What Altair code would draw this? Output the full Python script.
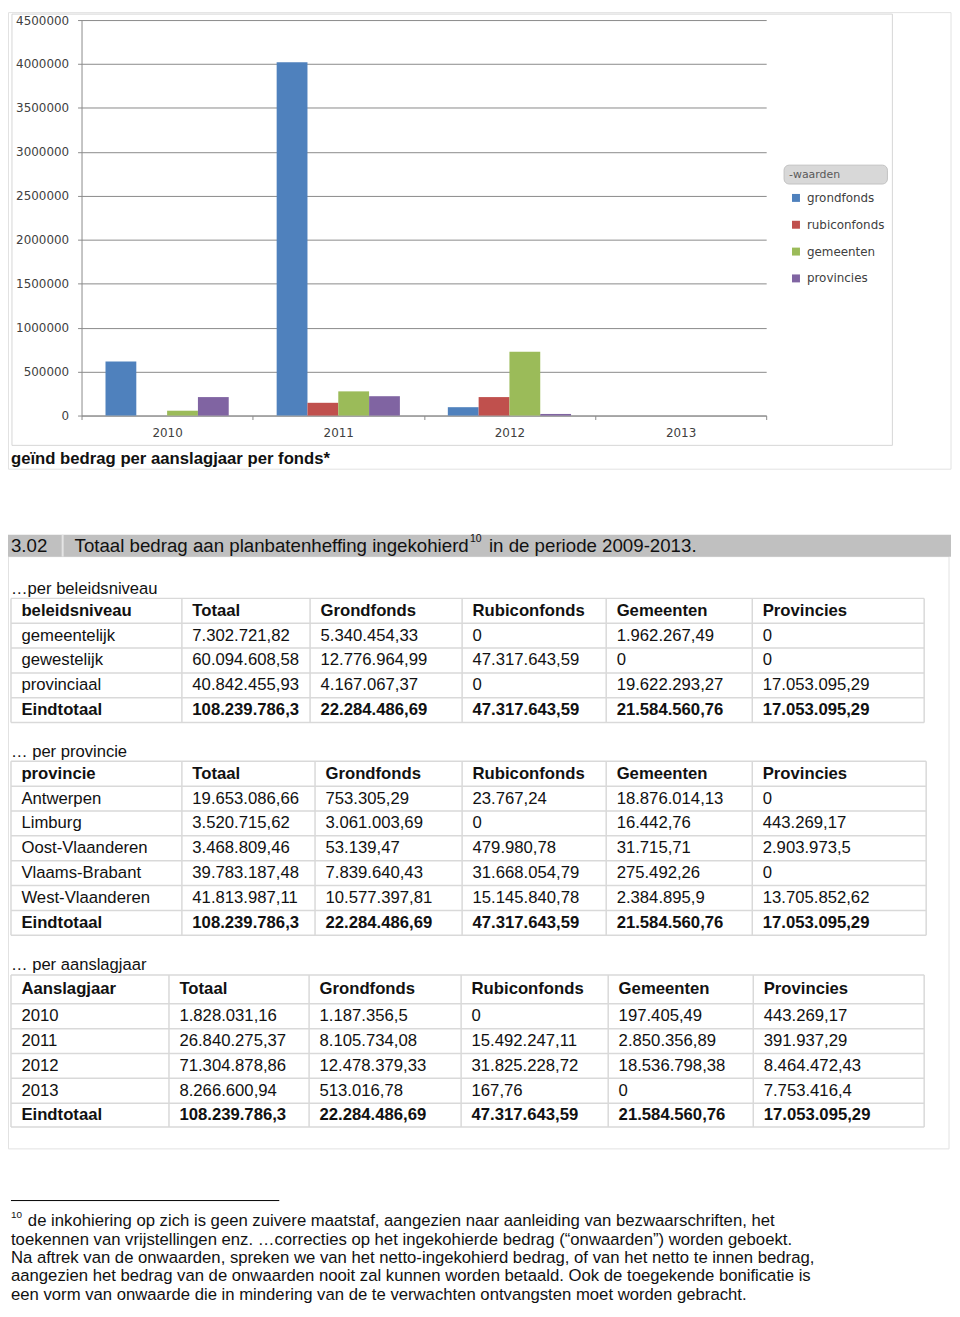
import altair as alt
import pandas as pd

# ---------------- chart data ----------------
years = ["2010", "2011", "2012", "2013"]
funds = ["grondfonds", "rubiconfonds", "gemeenten", "provincies"]
grondfonds = [615000, 4020000, 95000, 0]
rubiconfonds = [0, 145000, 210000, 0]
gemeenten = [55000, 275000, 725000, 0]
provincies = [210000, 220000, 18000, 0]
y_tick_values = [0, 500000, 1000000, 1500000, 2000000, 2500000,
                 3000000, 3500000, 4000000, 4500000]
fund_colors = ["#4F81BD", "#C0504D", "#9BBB59", "#8064A2"]

# ---------------- table data ----------------
value_headers = ["Totaal", "Grondfonds", "Rubiconfonds", "Gemeenten", "Provincies"]

t1_title = "beleidsniveau"
t1_rows = ["gemeentelijk", "gewestelijk", "provinciaal", "Eindtotaal"]
t1_totaal = ["7.302.721,82", "60.094.608,58", "40.842.455,93", "108.239.786,3"]
t1_grondfonds = ["5.340.454,33", "12.776.964,99", "4.167.067,37", "22.284.486,69"]
t1_rubiconfonds = ["0", "47.317.643,59", "0", "47.317.643,59"]
t1_gemeenten = ["1.962.267,49", "0", "19.622.293,27", "21.584.560,76"]
t1_provincies = ["0", "0", "17.053.095,29", "17.053.095,29"]

t2_title = "provincie"
t2_rows = ["Antwerpen", "Limburg", "Oost-Vlaanderen", "Vlaams-Brabant",
           "West-Vlaanderen", "Eindtotaal"]
t2_totaal = ["19.653.086,66", "3.520.715,62", "3.468.809,46", "39.783.187,48",
             "41.813.987,11", "108.239.786,3"]
t2_grondfonds = ["753.305,29", "3.061.003,69", "53.139,47", "7.839.640,43",
                 "10.577.397,81", "22.284.486,69"]
t2_rubiconfonds = ["23.767,24", "0", "479.980,78", "31.668.054,79",
                   "15.145.840,78", "47.317.643,59"]
t2_gemeenten = ["18.876.014,13", "16.442,76", "31.715,71", "275.492,26",
                "2.384.895,9", "21.584.560,76"]
t2_provincies = ["0", "443.269,17", "2.903.973,5", "0",
                 "13.705.852,62", "17.053.095,29"]

t3_title = "Aanslagjaar"
t3_rows = ["2010", "2011", "2012", "2013", "Eindtotaal"]
t3_totaal = ["1.828.031,16", "26.840.275,37", "71.304.878,86", "8.266.600,94", "108.239.786,3"]
t3_grondfonds = ["1.187.356,5", "8.105.734,08", "12.478.379,33", "513.016,78", "22.284.486,69"]
t3_rubiconfonds = ["0", "15.492.247,11", "31.825.228,72", "167,76", "47.317.643,59"]
t3_gemeenten = ["197.405,49", "2.850.356,89", "18.536.798,38", "0", "21.584.560,76"]
t3_provincies = ["443.269,17", "391.937,29", "8.464.472,43", "7.753.416,4", "17.053.095,29"]

chart_caption = "geïnd bedrag per aanslagjaar per fonds*"
section_no = "3.02"
section_title = "Totaal bedrag aan planbatenheffing ingekohierd"
section_sup = "10"
section_tail = "in de periode 2009-2013."
sub_titles = ["…per beleidsniveau", "… per provincie", "… per aanslagjaar"]
footnote_lines = [
    "de inkohiering op zich is geen zuivere maatstaf, aangezien naar aanleiding van bezwaarschriften, het",
    "toekennen van vrijstellingen enz. …correcties op het ingekohierde bedrag (“onwaarden”) worden geboekt.",
    "Na aftrek van de onwaarden, spreken we van het netto-ingekohierd bedrag, of van het netto te innen bedrag,",
    "aangezien het bedrag van de onwaarden nooit zal kunnen worden betaald. Ook de toegekende bonificatie is",
    "een vorm van onwaarde die in mindering van de te verwachten ontvangsten moet worden gebracht.",
]

# ---------------- layout (page pixels -> plot-relative pixels) ----------------
OX, OY = 82, 16          # page position of the bar plot's origin
PLOT_W, PLOT_H = 689, 398
PAGE_RIGHT, PAGE_BOTTOM = 958, 1308
GRID = "#8a8a8a"
AXT = "#404040"
TB = "#d9d9d9"
INK = "#111111"
SANS = "Liberation Sans"


def X(v):
    return v - OX


def Y(v):
    return v - OY


one = pd.DataFrame({"k": [0]})


def label(text, x, y, size=16.7, bold=False, color=INK, font=SANS):
    return alt.Chart(pd.DataFrame({"t": [text]})).mark_text(
        align="left", baseline="middle", font=font, fontSize=size,
        fontWeight="bold" if bold else "normal", color=color,
    ).encode(x=alt.value(X(x)), y=alt.value(Y(y)), text="t:N")


def frame(x1, y1, x2, y2, stroke, sw=1.0):
    return alt.Chart(one).mark_rect(filled=False, stroke=stroke, strokeWidth=sw).encode(
        x=alt.value(X(x1)), x2=alt.value(X(x2)), y=alt.value(Y(y1)), y2=alt.value(Y(y2)))


def fillbox(x1, y1, x2, y2, fill, stroke=None, radius=0):
    kw = dict(fill=fill, cornerRadius=radius)
    if stroke:
        kw.update(stroke=stroke, strokeWidth=1)
    return alt.Chart(one).mark_rect(**kw).encode(
        x=alt.value(X(x1)), x2=alt.value(X(x2)), y=alt.value(Y(y1)), y2=alt.value(Y(y2)))


def table_layers(first_title, first_col, cols, col_edges, row_edges):
    header = [first_title] + value_headers
    body = [first_col] + cols
    ncol = len(header)
    nrow = len(first_col) + 1
    cells = []
    for c, h in enumerate(header):
        cells.append(dict(r=0.5, c=c, t=h, b=1))
    for i in range(len(first_col)):
        b = 1 if first_col[i] == "Eindtotaal" else 0
        for c in range(ncol):
            cells.append(dict(r=i + 1.5, c=c, t=body[c][i], b=b))
    df = pd.DataFrame(cells)
    xs = alt.Scale(type="linear", domain=list(range(ncol + 1)),
                   range=[X(v) for v in col_edges], zero=False, nice=False)
    ys = alt.Scale(type="linear", domain=list(range(nrow + 1)),
                   range=[Y(v) for v in row_edges], zero=False, nice=False)
    hdf = pd.DataFrame({"r": list(range(nrow + 1)), "c0": 0, "c1": ncol})
    vdf = pd.DataFrame({"c": list(range(ncol + 1)), "r0": 0, "r1": nrow})
    hl = alt.Chart(hdf).mark_rule(color=TB, strokeWidth=1.5).encode(
        x=alt.X("c0:Q", scale=xs, axis=None), x2="c1:Q",
        y=alt.Y("r:Q", scale=ys, axis=None))
    vl = alt.Chart(vdf).mark_rule(color=TB, strokeWidth=1.5).encode(
        x=alt.X("c:Q", scale=xs, axis=None),
        y=alt.Y("r0:Q", scale=ys, axis=None), y2="r1:Q")
    out = [hl, vl]
    for bflag, weight in ((0, "normal"), (1, "bold")):
        out.append(alt.Chart(df).transform_filter(f"datum.b == {bflag}").mark_text(
            align="left", baseline="middle", dx=10.5, font=SANS, fontSize=16.8,
            fontWeight=weight, color=INK,
        ).encode(x=alt.X("c:Q", scale=xs, axis=None),
                 y=alt.Y("r:Q", scale=ys, axis=None), text="t:N"))
    return out


# ---------------- bar chart ----------------
bar_df = pd.DataFrame({
    "jaar": [y for y in years for _ in funds],
    "fonds": funds * len(years),
    "bedrag": [s[i] for i in range(len(years))
               for s in (grondfonds, rubiconfonds, gemeenten, provincies)],
})

bars = alt.Chart(bar_df).mark_bar().encode(
    x=alt.X("jaar:N", sort=years, title=None,
            scale=alt.Scale(paddingInner=0, paddingOuter=0),
            axis=alt.Axis(labelAngle=0, tickBand="extent", grid=False,
                          domainColor=GRID, tickColor=GRID, tickSize=4,
                          labelFont="DejaVu Sans", labelFontSize=12,
                          labelColor=AXT, labelPadding=8)),
    xOffset=alt.XOffset("fonds:N", sort=funds,
                        scale=alt.Scale(paddingInner=0, paddingOuter=0.778)),
    y=alt.Y("bedrag:Q", title=None,
            scale=alt.Scale(domain=[0, 4500000], nice=False),
            axis=alt.Axis(values=y_tick_values, format="d", grid=True,
                          gridColor=GRID, domainColor=GRID, tickColor=GRID,
                          tickSize=4, labelFont="DejaVu Sans", labelFontSize=12,
                          labelColor=AXT, labelPadding=9)),
    color=alt.Color("fonds:N", sort=funds,
                    scale=alt.Scale(domain=funds, range=fund_colors),
                    legend=alt.Legend(title=None, orient="none",
                                      legendX=X(795), legendY=Y(189),
                                      symbolType="square", symbolSize=64,
                                      labelFont="DejaVu Sans", labelFontSize=12,
                                      labelColor=AXT, rowPadding=15, padding=0,
                                      labelOffset=5)),
)

layers = [
    # page frames
    frame(8.5, 8.5, 957, 468, "#e2e2e2"),
    frame(12, 10, 898, 444, "#d6d6d6"),
    frame(8.5, 556, 955, 1152, "#e2e2e2"),
    # legend header box
    fillbox(789, 162, 893, 181, "#d8d8d8", stroke="#c2c2c2", radius=5),
    # section title bar
    fillbox(8, 534, 957, 556, "#c0c0c0"),
    fillbox(62, 534, 64, 556, "#e4e4e4"),
]
layers += table_layers(t1_title, t1_rows,
                       [t1_totaal, t1_grondfonds, t1_rubiconfonds, t1_gemeenten, t1_provincies],
                       [11, 183, 312, 465, 610, 757, 930],
                       [598, 623, 648, 673, 698, 723])
layers += table_layers(t2_title, t2_rows,
                       [t2_totaal, t2_grondfonds, t2_rubiconfonds, t2_gemeenten, t2_provincies],
                       [11, 183, 317, 465, 610, 757, 932],
                       [762, 787, 812, 837, 862, 887, 912, 937])
layers += table_layers(t3_title, t3_rows,
                       [t3_totaal, t3_grondfonds, t3_rubiconfonds, t3_gemeenten, t3_provincies],
                       [11, 170, 311, 464, 612, 758, 930],
                       [977, 1006, 1031, 1056, 1081, 1106, 1130])

FN = 16.8
layers += [
    bars,
    label("-waarden", 794, 172, size=11, color="#595959", font="DejaVu Sans"),
    label(chart_caption, 11, 458, size=16.8, bold=True),
    label(section_no, 11, 545, size=18.8),
    label(section_title, 75, 545, size=18.8),
    label(section_sup, 473, 538, size=10.5),
    label(section_tail, 492, 545, size=18.8),
    label(sub_titles[0], 11, 589),
    label(sub_titles[1], 11, 753),
    label(sub_titles[2], 11, 967),
    # footnote
    alt.Chart(one).mark_rule(color="#000000", strokeWidth=1).encode(
        x=alt.value(X(11)), x2=alt.value(X(281)), y=alt.value(Y(1204))),
    label("10", 11, 1219, size=10),
    label(footnote_lines[0], 28, 1225, size=FN),
    label(footnote_lines[1], 11, 1243.4, size=FN),
    label(footnote_lines[2], 11, 1261.8, size=FN),
    label(footnote_lines[3], 11, 1280.2, size=FN),
    label(footnote_lines[4], 11, 1298.6, size=FN),
]

chart = alt.layer(*layers).resolve_scale(
    x="independent", y="independent"
).properties(
    width=PLOT_W, height=PLOT_H,
    autosize=alt.AutoSizeParams(type="none"),
    padding={"left": OX - 8, "top": OY - 8,
             "right": PAGE_RIGHT - OX - PLOT_W,
             "bottom": PAGE_BOTTOM - OY - PLOT_H},
).configure_view(strokeWidth=0)

chart.save("out.html", embed_options={"renderer": "svg", "actions": False})
